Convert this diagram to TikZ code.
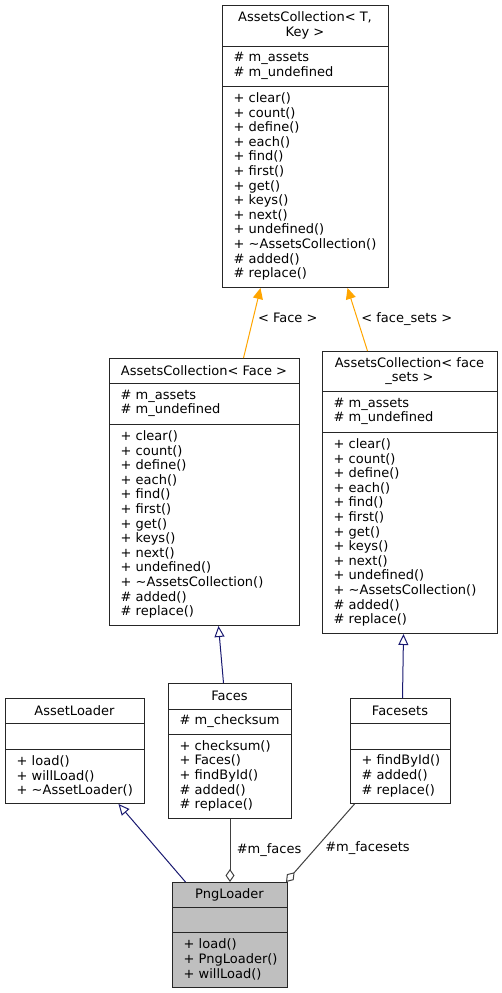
\documentclass[tikz,border=0pt]{standalone}
\usepackage{fontspec}
\setmainfont{DejaVu Sans}
\usetikzlibrary{arrows.meta}
\definecolor{midblue}{HTML}{191970}
\definecolor{edgegray}{HTML}{404040}
\definecolor{tplorange}{HTML}{FFA500}
\newcommand{\dxfont}{\fontsize{13}{14.6}\selectfont}
\tikzset{
	cls/.style={draw=black!85, line width=1pt, fill=white, anchor=north west, inner sep=0pt},
	sepline/.style={draw=black!85, line width=1pt},
	memb/.style={anchor=west, align=left, inner sep=0pt},
	ttl/.style={align=center, inner sep=0pt},
	inherit/.style={draw=midblue, line width=1pt, -{Triangle[open, length=11pt, width=10pt]}},
	tmpl/.style={draw=tplorange, line width=1pt, -{Triangle[length=11pt, width=10pt, fill=tplorange]}},
	aggr/.style={draw=edgegray, line width=1pt, -{Diamond[open, length=13pt, width=9pt]}}
}
\begin{document}
\begin{tikzpicture}[x=1pt, y=-1pt, font=\dxfont, line join=miter]
				\useasboundingbox (0,0) rectangle (501,993);
				\def\acattr{\# m\_assets\\\# m\_undefined}
				\def\acmeth{+ clear()\\+ count()\\+ define()\\+ each()\\+ find()\\+ first()\\+ get()\\+ keys()\\+ next()\\+ undefined()\\+ \textasciitilde AssetsCollection()\\\# added()\\\# replace()}
				% template class
				\node[cls, minimum width=166pt, minimum height=282pt] (tpl) at (222,5) {};
				\draw[sepline] (222,46)--(388,46) (222,86)--(388,86);
				\node[ttl] (tpltitle) at (305,25.5) {AssetsCollection< T,\\Key >};
				\node[memb] (tplattr) at (233.5,66) {\acattr};
				\node[memb] (tplmeth) at (233.5,186.5) {\acmeth};
				% AssetsCollection< Face >
				\node[cls, minimum width=190pt, minimum height=267pt] (acface) at (109,358) {};
				\draw[sepline] (109,383)--(299,383) (109,424)--(299,424);
				\node[ttl] (acfacetitle) at (204,370.5) {AssetsCollection< Face >};
				\node[memb] (acfaceattr) at (120.5,403.5) {\acattr};
				\node[memb] (acfacemeth) at (120.5,524.5) {\acmeth};
				% AssetsCollection< face_sets >
				\node[cls, minimum width=175pt, minimum height=282pt] (acsets) at (322,351) {};
				\draw[sepline] (322,391)--(497,391) (322,432)--(497,432);
				\node[ttl] (acsetstitle) at (409.5,371) {AssetsCollection< face\\\_sets >};
				\node[memb] (acsetsattr) at (333.5,411.5) {\acattr};
				\node[memb] (acsetsmeth) at (333.5,532.5) {\acmeth};
				% Faces
				\node[cls, minimum width=123pt, minimum height=135pt] (faces) at (168,683) {};
				\draw[sepline] (168,709)--(291,709) (168,734)--(291,734);
				\node[ttl] (facestitle) at (229.5,696) {Faces};
				\node[memb] (facesattr) at (179.5,721.5) {\# m\_checksum};
				\node[memb] (facesmeth) at (179.5,776) {+ checksum()\\+ Faces()\\+ findById()\\\# added()\\\# replace()};
				% AssetLoader
				\node[cls, minimum width=139pt, minimum height=105pt] (loader) at (5,698) {};
				\draw[sepline] (5,723)--(144,723) (5,749)--(144,749);
				\node[ttl] (loadertitle) at (74.5,710.5) {AssetLoader};
				\node[memb] (loadermeth) at (16.5,776) {+ load()\\+ willLoad()\\+ \textasciitilde AssetLoader()};
				% Facesets
				\node[cls, minimum width=100pt, minimum height=105pt] (facesets) at (350,698) {};
				\draw[sepline] (350,723)--(450,723) (350,749)--(450,749);
				\node[ttl] (facesetstitle) at (400,710.5) {Facesets};
				\node[memb] (facesetsmeth) at (361.5,776) {+ findById()\\\# added()\\\# replace()};
				% PngLoader
				\node[cls, fill=black!25, minimum width=115pt, minimum height=105pt] (png) at (172,882) {};
				\draw[sepline] (172,907)--(287,907) (172,932)--(287,932);
				\node[ttl] (pngtitle) at (229.5,894.5) {PngLoader};
				\node[memb] (pngmeth) at (183.5,959.5) {+ load()\\+ PngLoader()\\+ willLoad()};
				% edges
				\draw[tmpl] ([xshift=39pt]acface.north)--([xshift=-45pt]tpl.south) node[pos=0.57, right=1pt] {< Face >};
				\draw[tmpl] ([xshift=-42.5pt]acsets.north)--([xshift=42pt]tpl.south) node[midway, right=0pt] {< face\_sets >};
				\draw[inherit] ([xshift=-6.5pt]faces.north)--([xshift=14pt]acface.south);
				\draw[inherit] ([xshift=2pt]facesets.north)--([xshift=-6.5pt]acsets.south);
				\draw[inherit] ([xshift=-44.5pt]png.north)--([xshift=43.5pt]loader.south);
				\draw[aggr] (faces.south)--(png.north) node[midway, right=3pt] {\#m\_faces};
				\draw[aggr] ([xshift=-46pt]facesets.south)--([xshift=-2pt]png.north east) node[pos=0.57, anchor=west, xshift=6pt] {\#m\_facesets};
			\end{tikzpicture}
\end{document}
